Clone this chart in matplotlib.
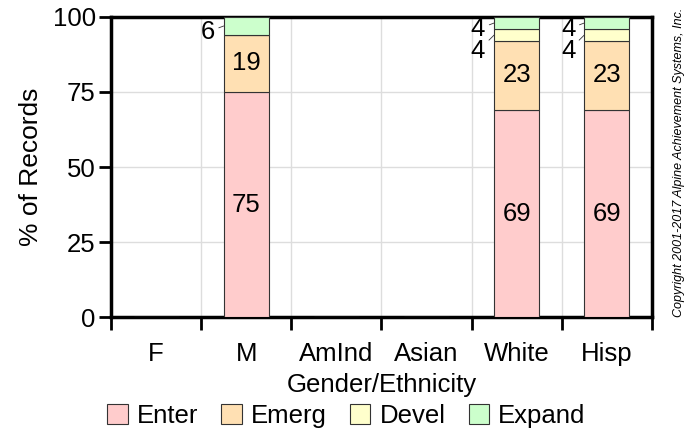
import matplotlib
matplotlib.use("Agg")
import matplotlib.pyplot as plt
import numpy as np

plt.rcParams['font.family'] = ['Liberation Sans', 'DejaVu Sans']

categories = ["F", "M", "AmInd", "Asian", "White", "Hisp"]
levels = ["Enter", "Emerg", "Devel", "Expand"]
colors = ["#FFCCCC", "#FFE0B3", "#FFFFCC", "#CCFFCC"]

# percent of records per level, one list per level (0 = no bar)
enter = [0, 75, 0, 0, 69, 69]
emerg = [0, 19, 0, 0, 23, 23]
devel = [0, 0, 0, 0, 4, 4]
expand = [0, 6, 0, 0, 4, 4]
values = [enter, emerg, devel, expand]

FS = 18.5

fig = plt.figure(figsize=(6.86, 4.29), dpi=100)
ax = fig.add_axes([0.1618, 0.261, 0.7886, 0.6994])

x = np.arange(len(categories)) + 0.5
bar_w = 0.5
bottom = np.zeros(len(categories))
for name, col, vals in zip(levels, colors, values):
    vals = np.array(vals, dtype=float)
    ax.bar(x, vals, bar_w, bottom=bottom, color=col, edgecolor="#333333",
           linewidth=0.8, label=name, zorder=3)
    bottom += vals

# value labels: big ones inside, small ones to the left with a leader line
for i in range(len(categories)):
    if sum(v[i] for v in values) == 0:
        continue
    cum = np.cumsum([v[i] for v in values])
    starts = cum - np.array([v[i] for v in values])
    prev_px = None
    for j in reversed(range(len(levels))):
        val = values[j][i]
        if val == 0:
            continue
        mid = starts[j] + val / 2
        if val >= 10:
            ax.text(x[i], mid, str(val), ha="center", va="center",
                    fontsize=FS, zorder=4)
        else:
            # stack the small labels downward so they don't collide
            dy = 6 if prev_px is None else max(6, prev_px + 22)
            ax.annotate(str(val), xy=(x[i] - bar_w / 2, mid),
                        xytext=(-9, -dy), textcoords="offset pixels",
                        ha="right", va="center", fontsize=FS, zorder=4,
                        arrowprops=dict(arrowstyle="-", color="#333333",
                                        lw=0.6, shrinkA=1, shrinkB=0))
            prev_px = dy - (val / 100) * 300

ax.set_xlim(0, 6)
ax.set_ylim(0, 100)
ax.set_yticks([0, 25, 50, 75, 100])
ax.set_xticks(np.arange(0, 7))
ax.set_xticklabels([])
ax.set_xticks(x, minor=True)
ax.set_xticklabels(categories, minor=True)
ax.tick_params(axis="x", which="minor", length=0, pad=18, labelsize=FS)
ax.tick_params(axis="x", which="major", length=9, width=2, direction="out")
ax.tick_params(axis="y", length=9, width=2, direction="out", labelsize=FS, pad=2)

ax.grid(True, which="major", color="#DDDDDD", linewidth=1, zorder=0)
ax.set_axisbelow(True)
for s in ax.spines.values():
    s.set_linewidth(2.5)

ax.set_ylabel("% of Records", fontsize=19, labelpad=7)
ax.set_xlabel("Gender/Ethnicity", fontsize=FS, labelpad=5)

fig.legend(loc="lower center", bbox_to_anchor=(0.505, 0.0), ncol=4,
           frameon=False, fontsize=FS, handlelength=0.8, handleheight=0.8,
           handletextpad=0.35, columnspacing=0.9, borderaxespad=0.0,
           borderpad=0.05)

fig.text(0.99, 0.622, "Copyright 2001-2017 Alpine Achievement Systems, Inc.",
         rotation=90, ha="center", va="center", fontsize=9, style="italic")

fig.savefig("out.png", dpi=100)
